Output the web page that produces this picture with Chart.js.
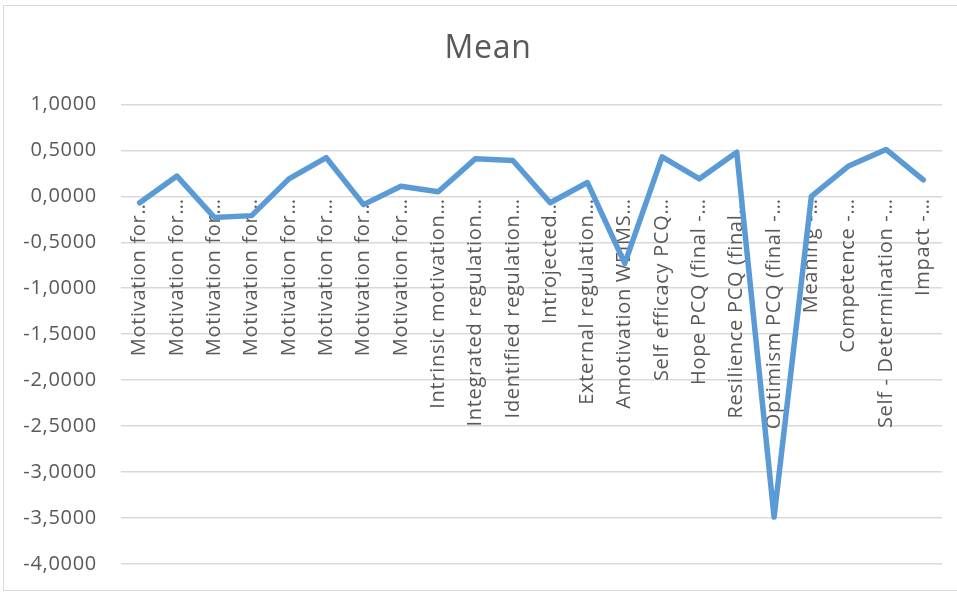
<!DOCTYPE html>
<html>
<head>
<meta charset="utf-8">
<title>Mean</title>
<script src="https://cdn.jsdelivr.net/npm/chart.js@4/dist/chart.umd.min.js"></script>
<style>
  html, body { margin: 0; padding: 0; background: #ffffff; overflow: hidden; }
  body { width: 957px; height: 592px; position: relative; }
  #frame {
    position: absolute; left: 3px; top: 5px;
    width: 998px; height: 584px;
    border: 1px solid #d9d9d9;
    background: #ffffff;
  }
  canvas { display: block; }
</style>
</head>
<body>
<div id="frame"><canvas id="chart" width="998" height="584"></canvas></div>
<script>
// Scale names as shown under the axis
const categories = [
  'Motivation for…', 'Motivation for…', 'Motivation for…', 'Motivation for…',
  'Motivation for…', 'Motivation for…', 'Motivation for…', 'Motivation for…',
  'Intrinsic motivation…', 'Integrated regulation…', 'Identified regulation…',
  'Introjected…', 'External regulation…', 'Amotivation WEIMS…',
  'Self efficacy PCQ…', 'Hope PCQ (final -…', 'Resilience PCQ (final…',
  'Optimism PCQ (final -…', 'Meaning -…', 'Competence -…',
  'Self - Determination -…', 'Impact -…'
];

// Mean score per scale
const meanValues = [
  -0.07, 0.22, -0.23, -0.21, 0.19, 0.42, -0.09, 0.11,
  0.05, 0.41, 0.39, -0.07, 0.15, -0.73,
  0.43, 0.19, 0.48, -3.49, 0.00, 0.33, 0.51, 0.18
];

// Value axis ticks
const yTickValues = [-4, -3.5, -3, -2.5, -2, -1.5, -1, -0.5, 0, 0.5, 1];

const textColor = '#595959';
const gridColor = '#d9d9d9';
const fontFamily = '"Open Sans", "Liberation Sans", sans-serif';
const labelFont = { family: fontFamily, size: 20 };

// Slightly looser tracking for all chart text
const textSpacing = {
  id: 'textSpacing',
  beforeLayout(chart) { chart.ctx.letterSpacing = '0.7px'; },
  beforeDraw(chart) { chart.ctx.letterSpacing = '0.7px'; }
};

new Chart(document.getElementById('chart'), {
  type: 'line',
  data: {
    labels: categories,
    datasets: [{
      label: 'Mean',
      data: meanValues,
      borderColor: '#5b9bd5',
      backgroundColor: '#5b9bd5',
      borderWidth: 5.5,
      pointRadius: 0,
      pointHoverRadius: 0,
      tension: 0,
      fill: false,
      borderJoinStyle: 'round',
      borderCapStyle: 'round'
    }]
  },
  plugins: [textSpacing],
  options: {
    responsive: false,
    animation: false,
    devicePixelRatio: 1,
    layout: { padding: { left: 30, right: 60, top: 0, bottom: 26 } },
    plugins: {
      legend: { display: false },
      tooltip: { enabled: false },
      title: {
        display: true,
        text: 'Mean',
        color: textColor,
        font: { family: fontFamily, size: 32, weight: 'normal' },
        padding: { top: 24, bottom: 36 }
      }
    },
    scales: {
      x: {
        type: 'category',
        offset: true,
        position: { y: 0 },
        grid: { display: false, drawTicks: false },
        border: { display: false },
        ticks: {
          color: textColor,
          font: labelFont,
          autoSkip: false,
          minRotation: 90,
          maxRotation: 90,
          padding: 2
        },
        afterFit: (scale) => { scale.height = 0; }
      },
      y: {
        type: 'linear',
        min: -4,
        max: 1,
        grid: {
          color: gridColor,
          lineWidth: 1.5,
          drawTicks: true,
          tickLength: 22,
          tickColor: 'rgba(0,0,0,0)'
        },
        border: { display: false },
        afterBuildTicks: (scale) => { scale.ticks = yTickValues.map(v => ({ value: v })); },
        afterFit: (scale) => { scale.width = 87; },
        // let the value labels run into the left margin instead of being clipped
        afterUpdate: (scale) => { scale._computeLabelArea = () => undefined; },
        ticks: {
          color: textColor,
          font: labelFont,
          padding: 2,
          callback: (v) => Number(v).toFixed(4).replace('.', ',')
        }
      }
    }
  }
});
</script>
</body>
</html>
